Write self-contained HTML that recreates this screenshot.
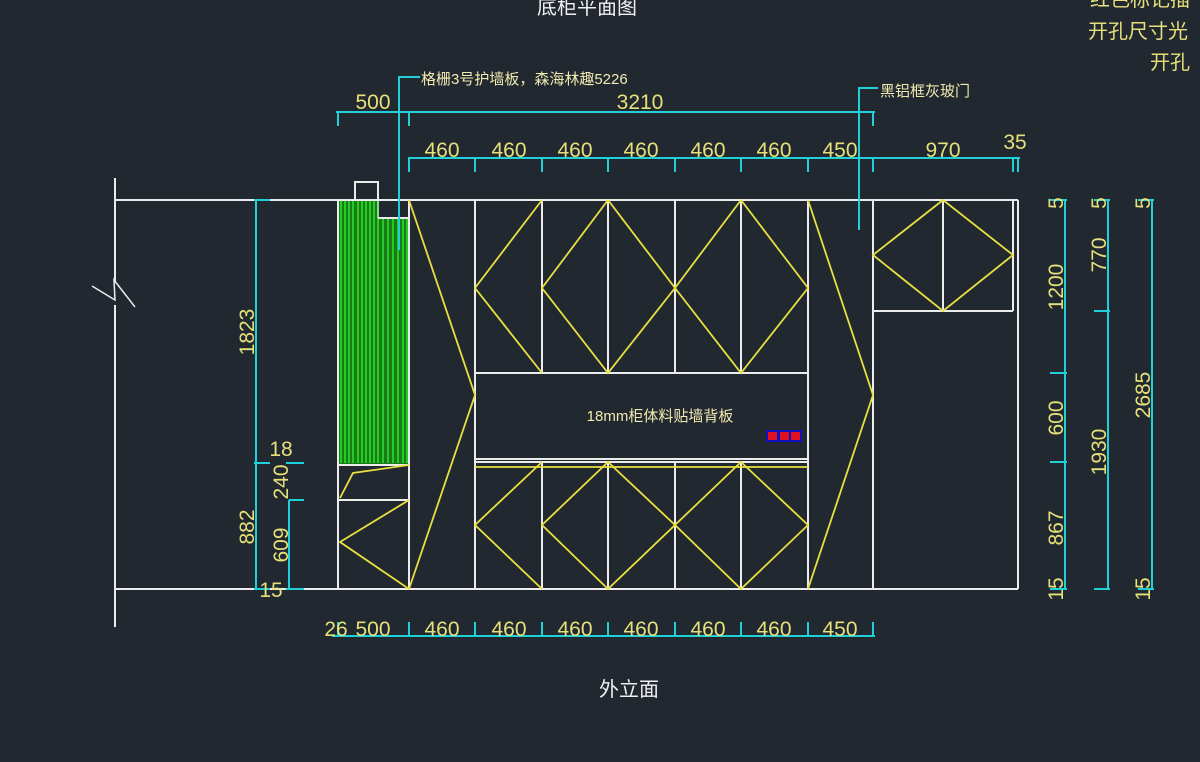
<!DOCTYPE html>
<html><head><meta charset="utf-8"><style>
html,body{margin:0;padding:0;background:#212830;}
svg{display:block}
text{font-family:"Liberation Sans","Noto Sans CJK SC",sans-serif;}
</style></head><body>
<svg width="1200" height="762" viewBox="0 0 1200 762" xmlns="http://www.w3.org/2000/svg">
<rect width="1200" height="762" fill="#212830"/>
<!-- titles -->
<text x="587" y="14" fill="#f0f0f0" font-size="20" text-anchor="middle">底柜平面图</text>
<text x="629" y="696" fill="#f0f0f0" font-size="20" text-anchor="middle">外立面</text>
<text x="1090" y="6" fill="#e6e07a" font-size="20">红色标记插</text>
<text x="1088" y="38" fill="#e6e07a" font-size="20">开孔尺寸光</text>
<text x="1150" y="69" fill="#e6e07a" font-size="20">开孔</text>

<g stroke="#ececec" stroke-width="2" fill="none">
<!-- wall -->
<line x1="115" y1="178" x2="115" y2="281"/>
<line x1="115" y1="305" x2="115" y2="627"/>
<polyline points="92,286 115,300 114,280 135,307" stroke-width="1.5"/>
<line x1="115" y1="200" x2="1018" y2="200"/>
<line x1="115" y1="589" x2="1018" y2="589"/>
<!-- left column -->
<rect x="355" y="182" width="23" height="18"/>
<line x1="338" y1="200" x2="338" y2="589"/>
<line x1="409" y1="200" x2="409" y2="589"/>
<line x1="338" y1="465" x2="409" y2="465"/>
<line x1="338" y1="500" x2="409" y2="500"/>
<!-- cabinets -->
<line x1="475" y1="200" x2="475" y2="589"/>
<line x1="542" y1="200" x2="542" y2="373"/>
<line x1="608" y1="200" x2="608" y2="373"/>
<line x1="675" y1="200" x2="675" y2="373"/>
<line x1="741" y1="200" x2="741" y2="373"/>
<line x1="542" y1="462" x2="542" y2="589"/>
<line x1="608" y1="462" x2="608" y2="589"/>
<line x1="675" y1="462" x2="675" y2="589"/>
<line x1="741" y1="462" x2="741" y2="589"/>
<line x1="808" y1="200" x2="808" y2="589"/>
<line x1="873" y1="200" x2="873" y2="589"/>
<line x1="475" y1="373" x2="808" y2="373"/>
<line x1="475" y1="459" x2="808" y2="459"/>
<line x1="475" y1="462" x2="808" y2="462"/>
<line x1="1018" y1="200" x2="1018" y2="589"/>
<line x1="1013" y1="200" x2="1013" y2="311"/>
<line x1="873" y1="311" x2="1013" y2="311"/>
<line x1="943" y1="200" x2="943" y2="311"/>
</g>
<!-- green hatch -->
<g stroke="#22cc22" stroke-width="2">
<rect x="339" y="201" width="39" height="263" fill="#1a7a1a" stroke="none"/>
<rect x="378" y="218" width="30" height="246" fill="#1a7a1a" stroke="none"/>
<line x1="341" y1="201" x2="341" y2="463"/><line x1="345" y1="201" x2="345" y2="463"/><line x1="349" y1="201" x2="349" y2="463"/><line x1="353" y1="201" x2="353" y2="463"/><line x1="358" y1="201" x2="358" y2="463"/><line x1="362" y1="201" x2="362" y2="463"/><line x1="366" y1="201" x2="366" y2="463"/><line x1="370" y1="201" x2="370" y2="463"/><line x1="374" y1="201" x2="374" y2="463"/><line x1="378" y1="201" x2="378" y2="463"/>
<line x1="383" y1="218" x2="383" y2="463"/><line x1="388" y1="218" x2="388" y2="463"/><line x1="393" y1="218" x2="393" y2="463"/><line x1="398" y1="218" x2="398" y2="463"/><line x1="403" y1="218" x2="403" y2="463"/><line x1="407" y1="218" x2="407" y2="463"/>
</g>
<line x1="378" y1="218" x2="409" y2="218" stroke="#ececec" stroke-width="2"/>
<line x1="378" y1="200" x2="378" y2="218" stroke="#ececec" stroke-width="1"/>
<!-- yellow -->
<g stroke="#e8e040" stroke-width="1.8" fill="none">
<polyline points="409,200 475,395 409,589"/>
<polyline points="808,200 873,395 808,589"/>
<polyline points="542,200 475,288 542,373"/>
<polygon points="608,200 542,288 608,373 675,288"/>
<polygon points="741,200 675,288 741,373 808,288"/>
<line x1="475" y1="467" x2="808" y2="467"/>
<polyline points="542,462 475,525 542,589"/>
<polygon points="608,462 542,525 608,589 675,525"/>
<polygon points="741,462 675,525 741,589 808,525"/>
<polygon points="943,200 873,255 943,311 1013,255"/>
<polyline points="409,465 353,473 340,498"/>
<polyline points="409,500 340,542 409,589"/>
</g>
<text x="660" y="421" fill="#f0eab0" font-size="15" text-anchor="middle">18mm柜体料贴墙背板</text>
<rect x="766" y="430" width="36" height="12" fill="#1010c0"/>
<rect x="768" y="432" width="9" height="8" fill="#e01020"/><rect x="780" y="432" width="9" height="8" fill="#e01020"/><rect x="791" y="432" width="9" height="8" fill="#e01020"/>

<!-- dims -->
<g stroke="#20d0d8" stroke-width="2" fill="none">
<line x1="336" y1="112" x2="875" y2="112"/>
<line x1="338" y1="112" x2="338" y2="126"/><line x1="409" y1="112" x2="409" y2="126"/><line x1="873" y1="112" x2="873" y2="126"/>
<line x1="408" y1="158" x2="1020" y2="158"/>
<line x1="409" y1="158" x2="409" y2="172"/><line x1="475" y1="158" x2="475" y2="172"/><line x1="542" y1="158" x2="542" y2="172"/><line x1="608" y1="158" x2="608" y2="172"/><line x1="675" y1="158" x2="675" y2="172"/><line x1="741" y1="158" x2="741" y2="172"/><line x1="808" y1="158" x2="808" y2="172"/><line x1="873" y1="158" x2="873" y2="172"/><line x1="1013" y1="158" x2="1013" y2="172"/><line x1="1018" y1="158" x2="1018" y2="172"/>
<polyline points="420,77 399,77 399,250"/>
<polyline points="878,88 859,88 859,230"/>
<line x1="332" y1="636" x2="875" y2="636"/>
<line x1="338" y1="622" x2="338" y2="636"/><line x1="409" y1="622" x2="409" y2="636"/><line x1="475" y1="622" x2="475" y2="636"/><line x1="542" y1="622" x2="542" y2="636"/><line x1="608" y1="622" x2="608" y2="636"/><line x1="675" y1="622" x2="675" y2="636"/><line x1="741" y1="622" x2="741" y2="636"/><line x1="808" y1="622" x2="808" y2="636"/><line x1="873" y1="622" x2="873" y2="636"/>
<line x1="256" y1="200" x2="256" y2="589"/>
<line x1="254" y1="200" x2="270" y2="200"/><line x1="254" y1="463" x2="270" y2="463"/><line x1="254" y1="589" x2="270" y2="589"/>
<line x1="289" y1="500" x2="289" y2="589"/>
<line x1="286" y1="463" x2="304" y2="463"/><line x1="289" y1="500" x2="304" y2="500"/><line x1="286" y1="589" x2="304" y2="589"/>
<line x1="1065" y1="200" x2="1065" y2="589"/>
<line x1="1050" y1="200" x2="1067" y2="200"/><line x1="1050" y1="373" x2="1067" y2="373"/><line x1="1050" y1="462" x2="1067" y2="462"/><line x1="1050" y1="589" x2="1067" y2="589"/>
<line x1="1108" y1="200" x2="1108" y2="589"/>
<line x1="1094" y1="200" x2="1110" y2="200"/><line x1="1094" y1="311" x2="1110" y2="311"/><line x1="1094" y1="589" x2="1110" y2="589"/>
<line x1="1152" y1="200" x2="1152" y2="589"/>
<line x1="1138" y1="200" x2="1154" y2="200"/><line x1="1138" y1="589" x2="1154" y2="589"/>
</g>
<g fill="#e6e07a" font-size="21" font-family="Liberation Serif, serif">
<text x="373" y="109" text-anchor="middle">500</text>
<text x="640" y="109" text-anchor="middle">3210</text>
<text x="442" y="157" text-anchor="middle">460</text>
<text x="509" y="157" text-anchor="middle">460</text>
<text x="575" y="157" text-anchor="middle">460</text>
<text x="641" y="157" text-anchor="middle">460</text>
<text x="708" y="157" text-anchor="middle">460</text>
<text x="774" y="157" text-anchor="middle">460</text>
<text x="840" y="157" text-anchor="middle">450</text>
<text x="943" y="157" text-anchor="middle">970</text>
<text x="1015" y="149" text-anchor="middle">35</text>
<text x="336" y="636" text-anchor="middle">26</text>
<text x="373" y="636" text-anchor="middle">500</text>
<text x="442" y="636" text-anchor="middle">460</text>
<text x="509" y="636" text-anchor="middle">460</text>
<text x="575" y="636" text-anchor="middle">460</text>
<text x="641" y="636" text-anchor="middle">460</text>
<text x="708" y="636" text-anchor="middle">460</text>
<text x="774" y="636" text-anchor="middle">460</text>
<text x="840" y="636" text-anchor="middle">450</text>
<text x="281" y="456" text-anchor="middle">18</text>
<text x="271" y="597" text-anchor="middle">15</text>
<text transform="translate(254,332) rotate(-90)" text-anchor="middle">1823</text>
<text transform="translate(254,527) rotate(-90)" text-anchor="middle">882</text>
<text transform="translate(288,482) rotate(-90)" text-anchor="middle">240</text>
<text transform="translate(288,545) rotate(-90)" text-anchor="middle">609</text>
<text transform="translate(1063,203) rotate(-90)" text-anchor="middle">5</text>
<text transform="translate(1063,287) rotate(-90)" text-anchor="middle">1200</text>
<text transform="translate(1063,418) rotate(-90)" text-anchor="middle">600</text>
<text transform="translate(1063,528) rotate(-90)" text-anchor="middle">867</text>
<text transform="translate(1063,589) rotate(-90)" text-anchor="middle">15</text>
<text transform="translate(1106,203) rotate(-90)" text-anchor="middle">5</text>
<text transform="translate(1106,255) rotate(-90)" text-anchor="middle">770</text>
<text transform="translate(1106,452) rotate(-90)" text-anchor="middle">1930</text>
<text transform="translate(1150,203) rotate(-90)" text-anchor="middle">5</text>
<text transform="translate(1150,395) rotate(-90)" text-anchor="middle">2685</text>
<text transform="translate(1150,589) rotate(-90)" text-anchor="middle">15</text>
</g>
<text x="421" y="84" fill="#f0eab0" font-size="15">格栅3号护墙板，森海林趣5226</text>
<text x="880" y="96" fill="#f0eab0" font-size="15">黑铝框灰玻门</text>
</svg>
</body></html>
